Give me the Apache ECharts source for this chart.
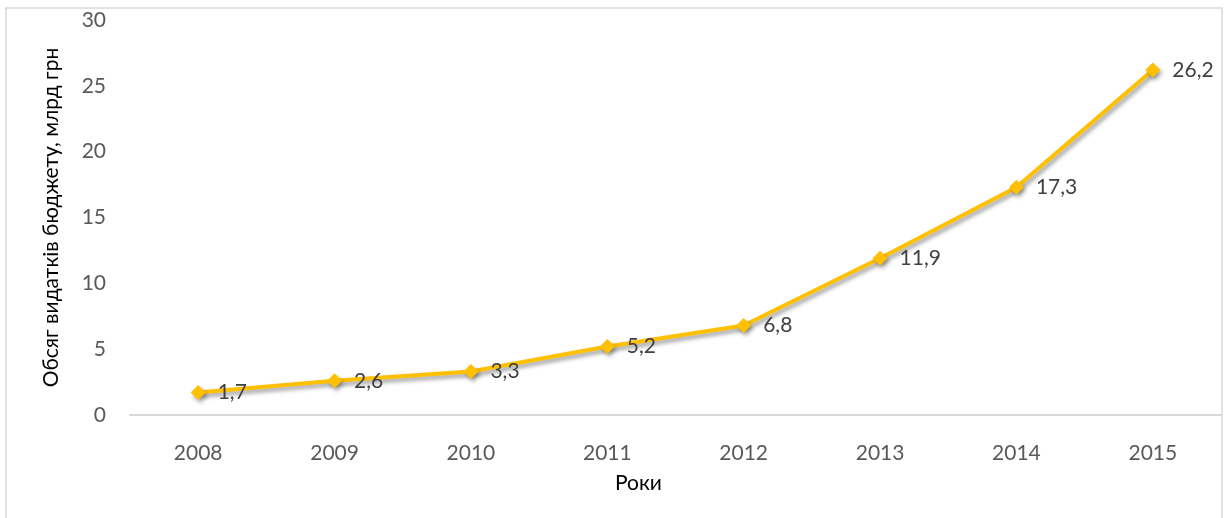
<!DOCTYPE html>
<html>
<head>
<meta charset="utf-8">
<script src="https://cdn.jsdelivr.net/npm/echarts@6/dist/echarts.min.js"></script>
<style>
  html, body { margin: 0; padding: 0; background: #fff; }
  #chart { width: 1225px; height: 518px; }
</style>
</head>
<body>
<div id="chart"></div>
<script>
// роки і обсяг видатків, млрд грн
var years = ["2008", "2009", "2010", "2011", "2012", "2013", "2014", "2015"];
var spending = [1.7, 2.6, 3.3, 5.2, 6.8, 11.9, 17.3, 26.2];
var yTicks = { min: 0, max: 30, interval: 5 };

var myChart = echarts.init(document.getElementById("chart"));
myChart.setOption({
  animation: false,
  textStyle: { fontFamily: "Lato" },
  graphic: [
    {
      type: "rect",
      shape: { x: 6, y: 8, width: 1216, height: 520 },
      style: { fill: "none", stroke: "#d9d9d9", lineWidth: 1.5 },
      silent: true
    }
  ],
  grid: {
    left: 130,
    right: 4,
    top: 20,
    bottom: 103
  },
  xAxis: {
    type: "category",
    data: years,
    boundaryGap: true,
    name: "Роки",
    nameLocation: "middle",
    nameGap: 58,
    nameTextStyle: {
      color: "#000",
      fontSize: 21,
      padding: [0, 74, 0, 0]
    },
    axisLine: { lineStyle: { color: "#d9d9d9", width: 2 } },
    axisTick: { show: false },
    axisLabel: { color: "#595959", fontSize: 21, margin: 28 }
  },
  yAxis: {
    type: "value",
    min: yTicks.min,
    max: yTicks.max,
    interval: yTicks.interval,
    name: "Обсяг видатків бюджету, млрд грн",
    nameLocation: "middle",
    nameGap: 68,
    nameTextStyle: { color: "#000", fontSize: 21 },
    axisLine: { show: false },
    axisTick: { show: false },
    splitLine: { show: false },
    axisLabel: { color: "#595959", fontSize: 21, margin: 24 }
  },
  series: [
    {
      type: "line",
      data: spending,
      symbol: "diamond",
      symbolSize: 15,
      itemStyle: {
        color: "#ffc000",
        shadowColor: "rgba(0,0,0,0.35)",
        shadowBlur: 4,
        shadowOffsetX: 2,
        shadowOffsetY: 3
      },
      lineStyle: {
        color: "#ffc000",
        width: 4,
        shadowColor: "rgba(0,0,0,0.4)",
        shadowBlur: 4,
        shadowOffsetX: 2,
        shadowOffsetY: 3
      },
      label: {
        show: true,
        position: "right",
        distance: 12,
        color: "#404040",
        fontSize: 21,
        formatter: function (p) {
          return String(p.value).replace(".", ",");
        }
      }
    }
  ]
});
</script>
</body>
</html>
